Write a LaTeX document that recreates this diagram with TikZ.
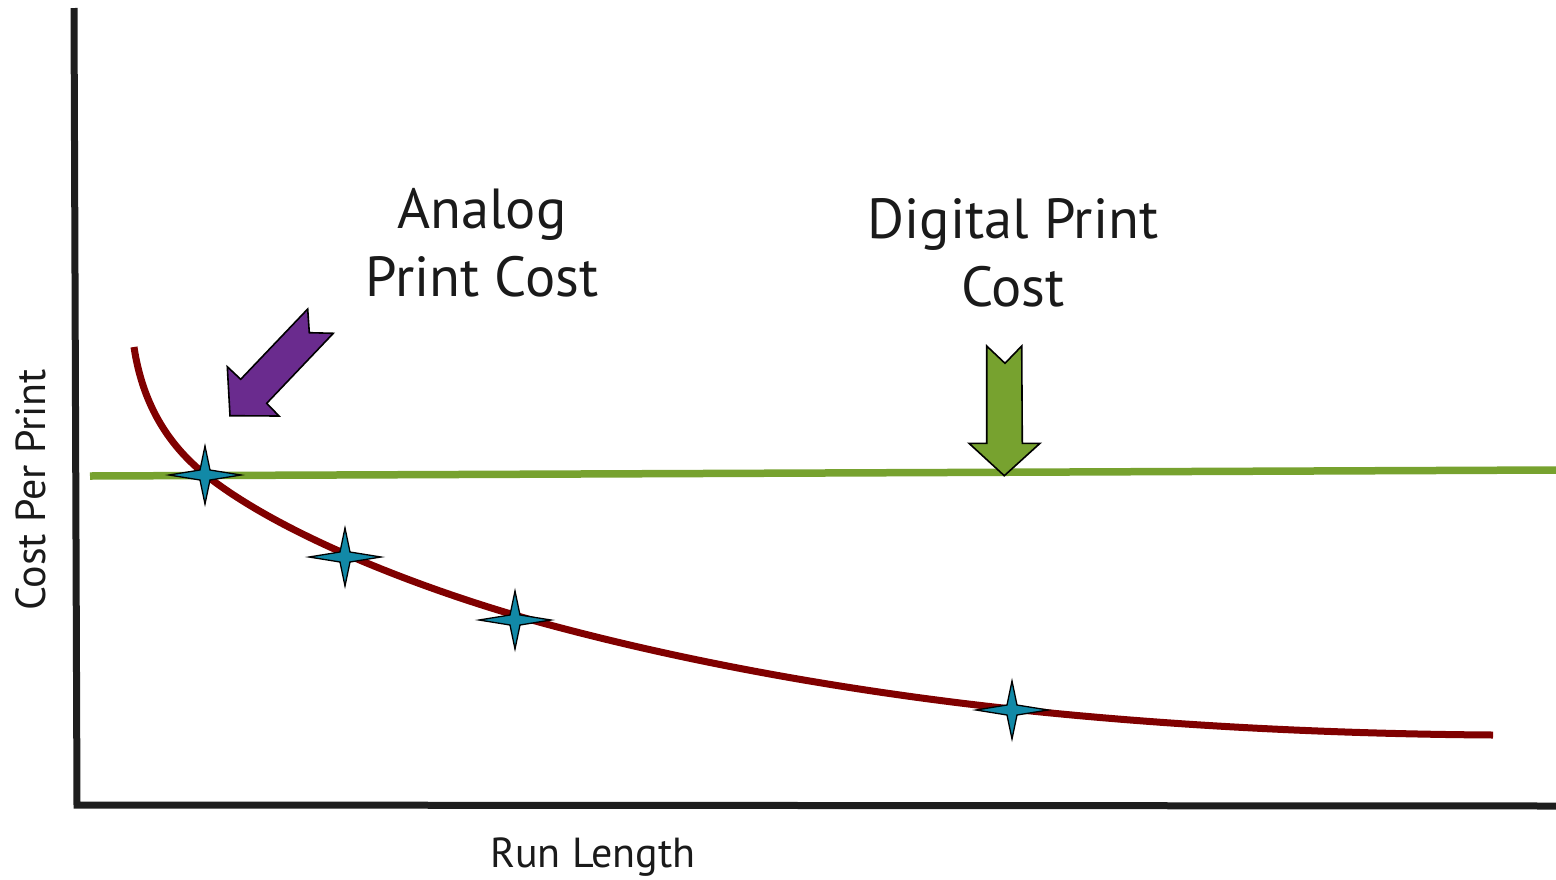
\documentclass[tikz,border=0pt]{standalone}
\usepackage{fontspec}
\setmainfont{PT Sans}
\usetikzlibrary{calc}
\definecolor{axisgray}{HTML}{1E1E1E}
\definecolor{digigreen}{HTML}{77A22F}
\definecolor{curvered}{HTML}{800000}
\definecolor{starblue}{HTML}{1289A7}
\definecolor{arrowpurple}{HTML}{6A2B8E}
\definecolor{txt}{HTML}{1A1A1A}
\begin{document}
\begin{tikzpicture}[x=1pt,y=-1pt,
  axisline/.style={line width=7pt,draw=axisgray},
  bigtext/.style={font=\fontsize{56.5}{64}\selectfont,text=txt,inner sep=0pt,anchor=base},
  axtext/.style={font=\fontsize{42}{48}\selectfont,text=txt,inner sep=0pt},
  blockarrow/.style={draw=black,line width=1.6pt,line join=miter},
  sparkstyle/.style={draw=black,line width=1.3pt,fill=starblue,line join=miter}]
\useasboundingbox (0,0) rectangle (1556,879);
% axes
\coordinate (ytop) at (74,8);
\coordinate (origin) at (77,805);
\coordinate (xend) at (1556,806);
\draw[axisline] (ytop) -- (origin) -- (xend);
% digital line
\coordinate (gl) at (90,476);
\coordinate (gr) at (1556,470);
\draw[line width=7.5pt,digigreen] (gl) -- (gr);
% analog curve
\coordinate (c0) at (134,347);
\coordinate (c1) at (207,476);
\coordinate (c2) at (550,625);
\coordinate (c3) at (1003,708);
\coordinate (c4) at (1493,735);
\draw[line width=7pt,curvered,line cap=butt]
  (c0) .. controls (142,400) and (165,443) .. (c1)
       .. controls (285.6,537.8) and (434,594) .. (c2)
       .. controls (695,664) and (854,691.5) .. (c3)
       .. controls (1162,725.6) and (1333,734) .. (c4);
% stars
\foreach \n/\cx/\cy in {s1/205/475, s2/345/557, s3/515/620, s4/1012/710}{
  \coordinate (\n) at (\cx,\cy);
  \draw[sparkstyle] ($(\n)+(0,-29)$) -- ($(\n)+(5,-5)$) -- ($(\n)+(36,0)$) -- ($(\n)+(5,5)$)
    -- ($(\n)+(0,29)$) -- ($(\n)+(-5,5)$) -- ($(\n)+(-36,0)$) -- ($(\n)+(-5,-5)$) -- cycle;
}
% purple arrow
\draw[blockarrow,fill=arrowpurple] (307.7,309) -- (309.3,332.7) -- (333.3,333.3) -- (266.7,403.3)
  -- (279,416) -- (230,415.7) -- (227.3,366.7) -- (240.7,379.3) -- cycle;
% green arrow
\draw[blockarrow,fill=digigreen] (986.7,346) -- (1005,363.3) -- (1021.7,346) -- (1022.3,443.3)
  -- (1040,443.3) -- (1004.3,475.7) -- (969,443.3) -- (986.7,443.3) -- cycle;
% labels
\node[bigtext] (an1) at (482,228) {Analog};
\node[bigtext] (an2) at (482,296) {Print Cost};
\node[bigtext] (dg1) at (1013,238) {Digital Print};
\node[bigtext] (dg2) at (1013,306) {Cost};
\node[axtext,rotate=90] (ylab) at (31,490) {Cost Per Print};
\node[axtext,anchor=base] (xlab) at (593,867) {Run Length};
\end{tikzpicture}
\end{document}
